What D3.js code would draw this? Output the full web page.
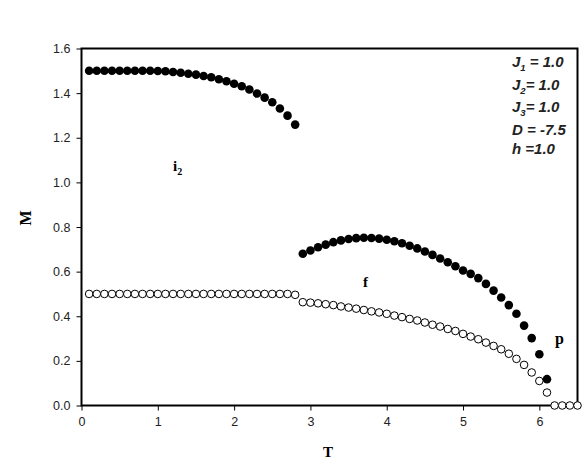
<!DOCTYPE html>
<html>
<head>
<meta charset="utf-8">
<script src="https://cdn.jsdelivr.net/npm/d3@7"></script>
<style>
  body { margin: 0; background: #fff; }
  svg { display: block; }
</style>
</head>
<body>
<div id="chart"></div>
<script>
// branch i2 (filled)
var i2T = [0.1,0.2,0.3,0.4,0.5,0.6,0.7,0.8,0.9,1.0,1.1,1.2,1.3,1.4,1.5,1.6,1.7,1.8,1.9,2.0,2.1,2.2,2.3,2.4,2.5,2.6,2.7,2.8];
var i2M = [1.500,1.500,1.500,1.500,1.500,1.500,1.500,1.500,1.500,1.499,1.498,1.495,1.491,1.487,1.483,1.477,1.471,1.462,1.453,1.442,1.431,1.416,1.398,1.380,1.359,1.331,1.299,1.259];

// branch f (filled)
var fT = [2.9,3.0,3.1,3.2,3.3,3.4,3.5,3.6,3.7,3.8,3.9,4.0,4.1,4.2,4.3,4.4,4.5,4.6,4.7,4.8,4.9,5.0,5.1,5.2,5.3,5.4,5.5,5.6,5.7,5.8,5.9,6.0,6.1];
var fM = [0.680,0.695,0.709,0.721,0.732,0.740,0.746,0.750,0.752,0.751,0.748,0.743,0.736,0.727,0.716,0.704,0.690,0.675,0.659,0.642,0.624,0.605,0.590,0.571,0.545,0.515,0.484,0.450,0.411,0.358,0.302,0.230,0.118];

// open circles
var oT = [0.1,0.2,0.3,0.4,0.5,0.6,0.7,0.8,0.9,1.0,1.1,1.2,1.3,1.4,1.5,1.6,1.7,1.8,1.9,2.0,2.1,2.2,2.3,2.4,2.5,2.6,2.7,2.8,2.9,3.0,3.1,3.2,3.3,3.4,3.5,3.6,3.7,3.8,3.9,4.0,4.1,4.2,4.3,4.4,4.5,4.6,4.7,4.8,4.9,5.0,5.1,5.2,5.3,5.4,5.5,5.6,5.7,5.8,5.9,6.0,6.1,6.2,6.3,6.4,6.5];
var oM = [0.500,0.500,0.500,0.500,0.500,0.500,0.500,0.500,0.500,0.500,0.500,0.500,0.500,0.500,0.500,0.500,0.500,0.500,0.500,0.500,0.500,0.500,0.500,0.500,0.500,0.500,0.500,0.496,0.463,0.461,0.458,0.454,0.450,0.444,0.439,0.434,0.428,0.422,0.417,0.411,0.403,0.396,0.388,0.381,0.372,0.362,0.354,0.343,0.334,0.321,0.309,0.297,0.282,0.267,0.252,0.232,0.209,0.182,0.148,0.110,0.058,0.0,0.0,0.0,0.0];

var xTicks = [0,1,2,3,4,5,6];
var yTicks = [0.0,0.2,0.4,0.6,0.8,1.0,1.2,1.4,1.6];

var params = [
  {b: "J", sub: "1", rest: " = 1.0"},
  {b: "J", sub: "2", rest: "= 1.0"},
  {b: "J", sub: "3", rest: "= 1.0"},
  {b: "D = -7.5", sub: "", rest: ""},
  {b: "h =1.0", sub: "", rest: ""}
];

var w = 585, h = 460;
var margin = {top: 48.5, right: 7.5, bottom: 54.5, left: 81.5};

var svg = d3.select("#chart").append("svg")
    .attr("width", w)
    .attr("height", h);

var x = d3.scaleLinear().domain([0, 6.5]).range([margin.left, w - margin.right]);
var y = d3.scaleLinear().domain([0, 1.6]).range([h - margin.bottom, margin.top]);

// Axes
var xAxis = d3.axisBottom(x).tickValues(xTicks).tickFormat(d3.format("d")).tickSizeOuter(0).tickSize(5).tickPadding(7);
var yAxis = d3.axisLeft(y).tickValues(yTicks).tickFormat(d3.format(".1f")).tickSizeOuter(0).tickSize(5).tickPadding(6);

var gx = svg.append("g")
    .attr("transform", "translate(0," + y(0) + ")")
    .call(xAxis);
var gy = svg.append("g")
    .attr("transform", "translate(" + x(0) + ",0)")
    .call(yAxis);

[gx, gy].forEach(function(g){
    g.select(".domain").remove();
    g.selectAll(".tick line").attr("stroke", "#000").attr("stroke-width", 1);
    g.selectAll(".tick text")
        .attr("fill", "#222")
        .style("font-family", "'Liberation Sans', Arial, sans-serif")
        .style("font-size", "12.5px");
});

// frame
svg.append("rect")
    .attr("x", x(0))
    .attr("y", y(1.6))
    .attr("width", x(6.5) - x(0))
    .attr("height", y(0) - y(1.6))
    .attr("fill", "none")
    .attr("stroke", "#000")
    .attr("stroke-width", 2);

// open circles first
var openData = oT.map(function(t, i){ return {t: t, m: oM[i]}; });
svg.append("g").selectAll("circle")
    .data(openData)
    .enter().append("circle")
    .attr("cx", function(d){ return x(d.t); })
    .attr("cy", function(d){ return y(d.m); })
    .attr("r", 3.8)
    .attr("fill", "#fff")
    .attr("stroke", "#000")
    .attr("stroke-width", 1);

var filled = i2T.map(function(t, i){ return {t: t, m: i2M[i]}; })
    .concat(fT.map(function(t, i){ return {t: t, m: fM[i]}; }));
svg.append("g").selectAll("circle")
    .data(filled)
    .enter().append("circle")
    .attr("cx", function(d){ return x(d.t); })
    .attr("cy", function(d){ return y(d.m); })
    .attr("r", 4.3)
    .attr("fill", "#000");

// axis titles
var serif = "'Liberation Serif', 'Times New Roman', serif";
svg.append("text")
    .attr("x", 328).attr("y", 457)
    .attr("text-anchor", "middle")
    .style("font-family", serif).style("font-weight", "bold").style("font-size", "15px")
    .text("T");
svg.append("text")
    .attr("transform", "translate(31,218) rotate(-90)")
    .attr("text-anchor", "middle")
    .style("font-family", serif).style("font-weight", "bold").style("font-size", "16px")
    .text("M");

// phase labels
var i2 = svg.append("text")
    .attr("x", 173).attr("y", 171)
    .style("font-family", serif).style("font-weight", "bold").style("font-size", "15px");
i2.append("tspan").text("i");
i2.append("tspan").attr("dy", 4).style("font-size", "10px").text("2");

svg.append("text")
    .attr("x", 363).attr("y", 287)
    .style("font-family", serif).style("font-weight", "bold").style("font-size", "15px")
    .text("f");
svg.append("text")
    .attr("x", 555).attr("y", 344)
    .style("font-family", serif).style("font-weight", "bold").style("font-size", "16px")
    .text("p");

// parameter box
var pBase = [67, 90, 112, 135, 154];
params.forEach(function(p, i){
    var t = svg.append("text")
        .attr("x", 512).attr("y", pBase[i])
        .attr("fill", "#222")
        .style("font-family", "'Liberation Sans', Arial, sans-serif")
        .style("font-weight", "bold").style("font-style", "italic").style("font-size", "15px");
    t.append("tspan").text(p.b);
    if (p.sub) {
        t.append("tspan").attr("dy", 4).style("font-size", "9.5px").text(p.sub);
        t.append("tspan").attr("dy", -4).text(p.rest);
    }
});
</script>
</body>
</html>
